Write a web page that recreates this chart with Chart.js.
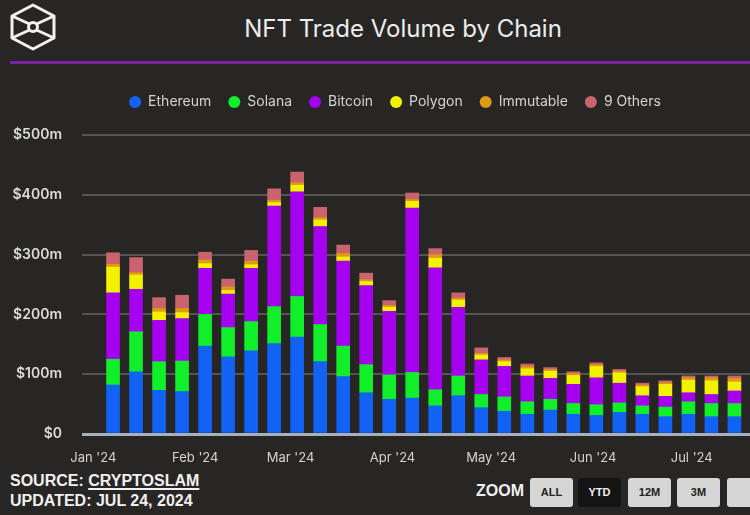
<!DOCTYPE html>
<html>
<head>
<meta charset="utf-8">
<title>NFT Trade Volume by Chain</title>
<script src="https://cdn.jsdelivr.net/npm/chart.js@4.4.1/dist/chart.umd.min.js"></script>
<style>
  html, body { margin: 0; padding: 0; width: 750px; height: 515px; overflow: hidden; background: #282624; }
  #logo { position: absolute; left: 8px; top: 1px; }
  #title { position: absolute; top: 14px; left: 403px; transform: translateX(-50%); font-family: Inter, sans-serif; font-size: 24px; color: #ececec; white-space: nowrap; }
  #rule { position: absolute; left: 10px; top: 61px; width: 800px; height: 3px; background: #7a22a6; }
  #wrap { position: absolute; left: 0; top: 70px; width: 800px; height: 400px; }
  #source { position: absolute; left: 10px; top: 471px; font-family: "Liberation Sans", Arial, sans-serif; font-weight: bold; font-size: 16px; line-height: 20px; color: #f0f0f0; }
  #source u { text-decoration-thickness: 2px; text-underline-offset: 2px; }
  #zoomlbl { position: absolute; left: 476px; top: 482px; font-family: "Liberation Sans", Arial, sans-serif; font-weight: bold; font-size: 16px; color: #f0f0f0; }
  .btn { position: absolute; top: 478px; width: 43px; height: 29px; border-radius: 3px; background: #d6d6d6; color: #222; font-family: "Liberation Sans", Arial, sans-serif; font-weight: bold; font-size: 11px; line-height: 29px; text-align: center; }
  .btn.on { background: #141414; color: #f0f0f0; }
</style>
</head>
<body>
<svg id="logo" width="52" height="52" viewBox="0 0 52 52">
  <g fill="none" stroke="#f2f2f2" stroke-width="3" stroke-linejoin="round">
    <polygon points="25,4 46,15 46,37 25,48 4,37 4,15"/>
    <circle cx="25" cy="26" r="4.5"/>
    <line x1="4" y1="15" x2="21.5" y2="23"/>
    <line x1="46" y1="15" x2="28.5" y2="23"/>
    <line x1="21.5" y1="29" x2="4" y2="37"/>
    <line x1="28.5" y1="29" x2="46" y2="37"/>
  </g>
</svg>
<div id="title">NFT Trade Volume by Chain</div>
<div id="rule"></div>
<div id="wrap"><canvas id="nftChart" width="800" height="400"></canvas></div>
<div id="source">SOURCE: <u>CRYPTOSLAM</u><br>UPDATED: JUL 24, 2024</div>
<div id="zoomlbl">ZOOM</div>
<div class="btn" style="left:530px">ALL</div>
<div class="btn on" style="left:578px">YTD</div>
<div class="btn" style="left:628px">12M</div>
<div class="btn" style="left:677px">3M</div>
<div class="btn" style="left:727px"></div>

<script>
// weekly volumes in $ millions
const weeks = ['2024-01-07', '2024-01-14', '2024-01-21', '2024-01-28', '2024-02-04', '2024-02-11', '2024-02-18',
  '2024-02-25', '2024-03-03', '2024-03-10', '2024-03-17', '2024-03-24', '2024-03-31', '2024-04-07',
  '2024-04-14', '2024-04-21', '2024-04-28', '2024-05-05', '2024-05-12', '2024-05-19', '2024-05-26',
  '2024-06-02', '2024-06-09', '2024-06-16', '2024-06-23', '2024-06-30', '2024-07-07', '2024-07-14'];

const ethereum  = [82, 104, 73, 71, 147, 129, 139, 151, 162, 121, 96, 69, 58, 60, 47, 64, 44, 38, 33, 40, 33, 31, 36, 33, 29, 33, 29, 29];
const solana    = [43, 67, 48, 51, 53, 49, 49, 62, 68, 62, 51, 47, 41, 43, 27, 33, 22, 24, 21, 18, 18, 18, 16, 14, 16, 21, 22, 22];
const bitcoin   = [111, 71, 69, 71, 77, 56, 89, 168, 175, 164, 142, 132, 106, 275, 204, 115, 58, 51, 43, 35, 32, 45, 33, 17, 18, 15, 15, 21];
const polygon   = [43, 24, 14, 10, 8, 6, 6, 6, 11, 11, 7, 7, 7, 11, 16, 12, 8, 8, 12, 12, 15, 19, 17, 15, 20, 21, 23, 15];
const immutable = [5, 4, 6, 7, 6, 6, 6, 4, 4, 4, 6, 3, 3, 3, 6, 3, 3, 3, 4, 3, 3, 3, 3, 3, 3, 4, 5, 6];
const others    = [19, 25, 18, 22, 13, 13, 18, 19, 18, 17, 14, 11, 8, 11, 10, 9, 9, 4, 4, 3, 3, 3, 3, 3, 3, 3, 3, 4];

const monthStarts = ['2024-01-01', '2024-02-01', '2024-03-01', '2024-04-01', '2024-05-01', '2024-06-01', '2024-07-01'];
const monthLabels = ["Jan '24", "Feb '24", "Mar '24", "Apr '24", "May '24", "Jun '24", "Jul '24"];

// day number counted from 1 Jan 2024
function dayOf(d) {
  return (Date.parse(d) - Date.parse('2024-01-01')) / 86400000;
}

function series(values) {
  return values.map((v, i) => ({ x: dayOf(weeks[i]), y: v }));
}

// extra room under the legend
const legendGap = {
  id: 'legendGap',
  beforeInit(chart) {
    const fit = chart.legend.fit;
    chart.legend.fit = function () {
      fit.call(this);
      this.height += 16;
    };
  }
};

const ctx = document.getElementById('nftChart').getContext('2d');

new Chart(ctx, {
  type: 'bar',
  data: {
    datasets: [
      { label: 'Ethereum', data: series(ethereum), backgroundColor: '#1262f5' },
      { label: 'Solana', data: series(solana), backgroundColor: '#10ef2a' },
      { label: 'Bitcoin', data: series(bitcoin), backgroundColor: '#a600f0' },
      { label: 'Polygon', data: series(polygon), backgroundColor: '#f2f200' },
      { label: 'Immutable', data: series(immutable), backgroundColor: '#e09a14' },
      { label: '9 Others', data: series(others), backgroundColor: '#c9646f' }
    ]
  },
  plugins: [legendGap],
  options: {
    responsive: false,
    animation: false,
    layout: { padding: { left: 0, right: 10, top: 8, bottom: 0 } },
    datasets: { bar: { barThickness: 13, borderWidth: 0 } },
    scales: {
      x: {
        type: 'linear',
        stacked: true,
        offset: false,
        min: -3.44,
        max: 211.9,
        afterBuildTicks: axis => { axis.ticks = monthStarts.map(m => ({ value: dayOf(m) })); },
        afterFit: s => { s.height = 36; },
        ticks: {
          autoSkip: false,
          maxRotation: 0,
          padding: 8,
          color: '#d4d4d4',
          font: { family: 'Inter', size: 13 },
          callback: (v, i) => monthLabels[i]
        },
        grid: { display: false },
        border: { display: false }
      },
      y: {
        stacked: true,
        min: 0,
        max: 500,
        afterFit: s => { s.width = 82; },
        ticks: {
          stepSize: 100,
          padding: 20,
          color: '#dcdcdc',
          font: { family: 'Inter', size: 14, weight: '600' },
          callback: v => v === 0 ? '$0' : '$' + v + 'm'
        },
        grid: {
          drawTicks: false,
          color: c => c.tick.value === 0 ? '#a8b0be' : '#555453',
          lineWidth: c => c.tick.value === 0 ? 3 : 2
        },
        border: { display: false }
      }
    },
    plugins: {
      legend: {
        display: true,
        labels: {
          usePointStyle: true,
          pointStyle: 'circle',
          pointStyleWidth: 12,
          boxHeight: 8.5,
          padding: 17,
          color: '#d4d4d4',
          font: { family: 'Inter', size: 14 }
        }
      },
      tooltip: { enabled: false }
    }
  }
});
</script>
</body>
</html>
